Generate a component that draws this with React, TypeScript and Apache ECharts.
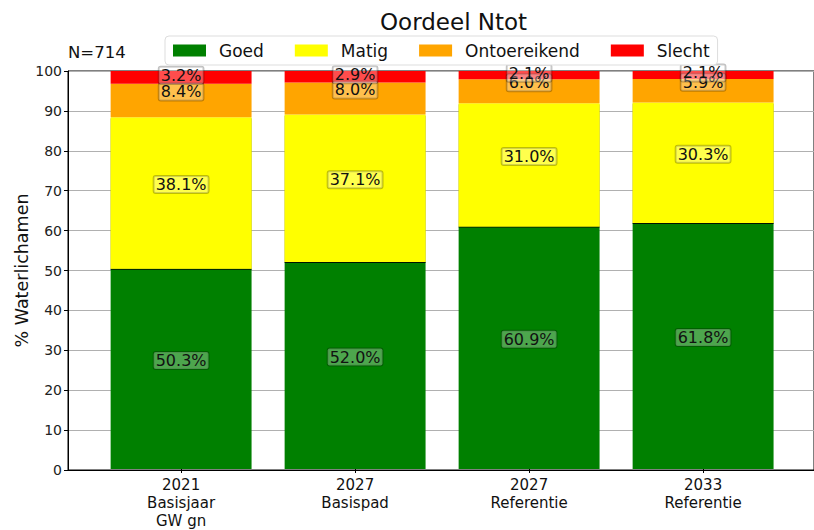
import React, { useEffect, useRef } from "react";
import * as echarts from "echarts";

const categories = ["2021\nBasisjaar\nGW gn", "2027\nBasispad", "2027\nReferentie", "2033\nReferentie"];
const seriesNames = ["Goed", "Matig", "Ontoereikend", "Slecht"];
const goed = [50.3, 52.0, 60.9, 61.8];
const matig = [38.1, 37.1, 31.0, 30.3];
const ontoereikend = [8.4, 8.0, 6.0, 5.9];
const slecht = [3.2, 2.9, 2.1, 2.1];
const colors = ["#008000", "#ffff00", "#ffa500", "#ff0000"];

const FONT = "DejaVu Sans";

export default function App() {
  const ref = useRef<HTMLDivElement>(null);
  useEffect(() => {
    if (!ref.current) return;
    const chart = echarts.init(ref.current, null, { renderer: "svg" });
    const values = [goed, matig, ontoereikend, slecht];
    const frameLeft = 68;
    const band = 174;
    const frameWidth = 4.3 * band;
    const barsLeft = frameLeft + 0.15 * band;
    const barsWidth = 4 * band;
    const barW = 0.81 * band;
    const offsets = [-8.5, -8.5, -8.5, -2];
    const top = 71;
    const height = 399;

    const series = values.map((arr, si) => ({
      name: seriesNames[si],
      type: "bar",
      stack: "total",
      xAxisIndex: 1,
      yAxisIndex: 1,
      barWidth: barW,
      data: arr,
      itemStyle:
        si === 1
          ? { color: colors[si], shadowColor: "rgba(0,0,0,0.85)", shadowBlur: 0, shadowOffsetY: 1, shadowOffsetX: 0 }
          : { color: colors[si] },
      label: {
        show: true,
        position: "inside",
        offset: [0, offsets[si]],
        formatter: (p: any) => Number(p.value).toFixed(1) + "%",
        fontFamily: FONT,
        fontSize: 16,
        color: "#111",
        backgroundColor: "rgba(255,255,255,0.3)",
        borderColor: "rgba(0,0,0,0.25)",
        borderWidth: 1,
        borderRadius: 2,
        padding: [1, 2, 0, 2],
      },
      emphasis: { disabled: true },
    }));

    chart.setOption({
      animation: false,
      title: {
        text: "Oordeel Ntot",
        left: 375,
        top: 5,
        textStyle: { fontFamily: FONT, fontSize: 23, fontWeight: "normal", color: "#111" },
      },
      legend: {
        data: seriesNames,
        left: 165,
        top: 36,
        icon: "rect",
        itemWidth: 33,
        itemHeight: 12,
        itemGap: 31,
        padding: [6, 8, 6, 8],
        backgroundColor: "#ffffff",
        borderColor: "#dddddd",
        borderWidth: 1,
        borderRadius: 4,
        textStyle: { fontFamily: FONT, fontSize: 17, color: "#111", padding: [0, 0, 0, 8] },
      },
      graphic: [
        {
          type: "text",
          left: 68,
          top: 44,
          style: { text: "N=714", fontFamily: FONT, fontSize: 16.5, fill: "#111" },
        },
      ],
      grid: [
        {
          left: frameLeft,
          top,
          width: frameWidth,
          height,
          show: true,
          borderColor: "#000",
          borderWidth: 1,
          backgroundColor: "transparent",
        },
        {
          left: barsLeft,
          top,
          width: barsWidth,
          height,
        },
      ],
      xAxis: [
        {
          type: "value",
          gridIndex: 0,
          min: 0,
          max: 1,
          splitLine: { show: false },
          axisLine: { show: true, lineStyle: { color: "#000", width: 1 } },
          axisTick: { show: false },
          axisLabel: { show: false },
        },
        {
          type: "category",
          gridIndex: 1,
          data: categories,
          axisLine: { show: false },
          axisTick: { show: true, length: 4, alignWithLabel: true, lineStyle: { color: "#000" } },
          axisLabel: {
            fontFamily: FONT,
            fontSize: 15,
            lineHeight: 18,
            color: "#111",
            margin: 7,
          },
        },
      ],
      yAxis: [
        {
          type: "value",
          gridIndex: 0,
          min: 0,
          max: 100,
          interval: 10,
          name: "% Waterlichamen",
          nameLocation: "middle",
          nameGap: 37,
          nameMoveOverlap: false,
          nameTextStyle: { fontFamily: FONT, fontSize: 17.5, color: "#111" },
          axisLine: { show: true, lineStyle: { color: "#000", width: 1 } },
          axisTick: { show: true, length: 4, lineStyle: { color: "#000" } },
          axisLabel: { fontFamily: FONT, fontSize: 14, color: "#222", margin: 6 },
          splitLine: { show: true, lineStyle: { color: "#b0b0b0", width: 1 } },
        },
        {
          type: "value",
          gridIndex: 1,
          min: 0,
          max: 100,
          interval: 10,
          show: false,
          splitLine: { show: false },
        },
      ],
      series,
    });
    return () => chart.dispose();
  }, []);
  return (
    <div
      ref={ref}
      style={{ position: "fixed", left: 0, top: 0, width: 814, height: 530, background: "#fff" }}
    />
  );
}
